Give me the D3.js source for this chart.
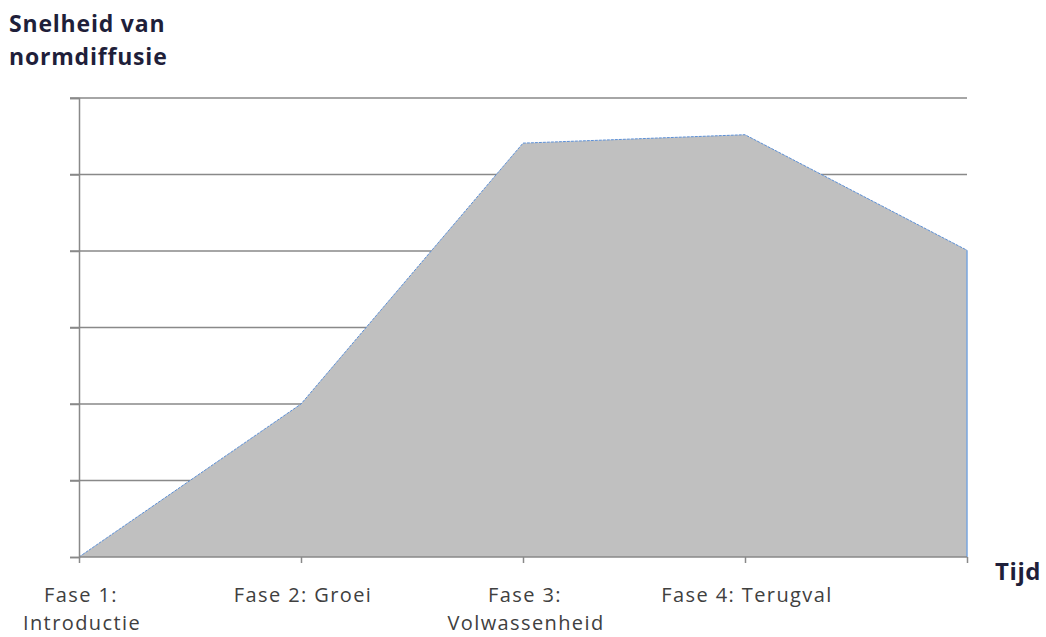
<!DOCTYPE html>
<html><head><meta charset="utf-8">
<script src="https://cdn.jsdelivr.net/npm/d3@7"></script>
<style>body{margin:0;background:#fff}svg{display:block}</style>
</head><body>
<script>
const categories = ["Fase 1:\nIntroductie","Fase 2: Groei","Fase 3:\nVolwassenheid","Fase 4: Terugval",""];
const values = [0, 2, 5.41, 5.52, 4.01];
const yTicks = [0,1,2,3,4,5,6];
const yTitle = ["Snelheid van","normdiffusie"];
const xTitle = "Tijd";

const W=1046,H=637;
const svg=d3.select("body").append("svg").attr("width",W).attr("height",H);
const x0=79,x1=967,yTop=98,yBot=557;
const x=d3.scalePoint().domain(d3.range(categories.length)).range([x0,x1]);
const y=d3.scaleLinear().domain([0,6]).range([yBot,yTop]);

// gridlines
svg.append("g").selectAll("line").data(yTicks.slice(1)).join("line")
  .attr("x1",70).attr("x2",x1).attr("y1",d=>y(d)).attr("y2",d=>y(d))
  .attr("stroke","#898989").attr("stroke-width",1.5);

// area
const area=d3.area().x((d,i)=>x(i)).y0(y(0)).y1(d=>y(d));
svg.append("path").datum(values).attr("d",area).attr("fill","#c0c0c0");
const line=d3.line().x((d,i)=>x(i)).y(d=>y(d));
svg.append("path").datum(values).attr("d",line).attr("fill","none")
  .attr("stroke","#5b8fd6").attr("stroke-width",1).attr("stroke-dasharray","3,1");
svg.append("line").attr("x1",x1).attr("x2",x1).attr("y1",y(values[4])).attr("y2",yBot)
  .attr("stroke","#7aa6de").attr("stroke-width",1.5);

// y axis
const ya=svg.append("g").attr("transform",`translate(${x0},0)`)
  .call(d3.axisLeft(y).tickValues(yTicks).tickSize(9).tickFormat(""));
ya.select(".domain").attr("stroke","#898989").attr("stroke-width",1.5);
ya.selectAll(".tick line").attr("stroke","#898989").attr("stroke-width",1.5);

// x axis
const xa=svg.append("g").attr("transform",`translate(0,${yBot})`)
  .call(d3.axisBottom(x).tickSize(6).tickSizeOuter(0).tickFormat(""));
xa.select(".domain").attr("stroke","#898989").attr("stroke-width",1.5).attr("d",`M${x0},0H${x1}`);
xa.selectAll(".tick line").attr("stroke","#898989").attr("stroke-width",1.5);

// x labels
const lab=svg.append("g").attr("font-family","Open Sans, sans-serif").attr("font-size",20)
  .attr("letter-spacing",1.4).attr("fill","#404040");
categories.forEach((c,i)=>{
  const t=lab.append("text").attr("text-anchor","middle");
  c.split("\n").forEach((s,j)=>t.append("tspan").attr("x",x(i)+2+(j?1:0)).attr("y",602+j*28).text(s));
});

svg.append("g").attr("font-family","Open Sans, sans-serif").attr("font-weight","bold").attr("font-size",23)
  .attr("letter-spacing",0.8).attr("fill","#1f1f3a")
  .selectAll("text").data(yTitle).join("text").attr("x",9).attr("y",(d,i)=>32+i*33).text(d=>d);
svg.append("text").attr("font-family","Open Sans, sans-serif").attr("font-weight","bold").attr("font-size",24)
  .attr("letter-spacing",0.6).attr("fill","#1f1f3a")
  .attr("x",995).attr("y",580).text(xTitle);
</script>
</body></html>
